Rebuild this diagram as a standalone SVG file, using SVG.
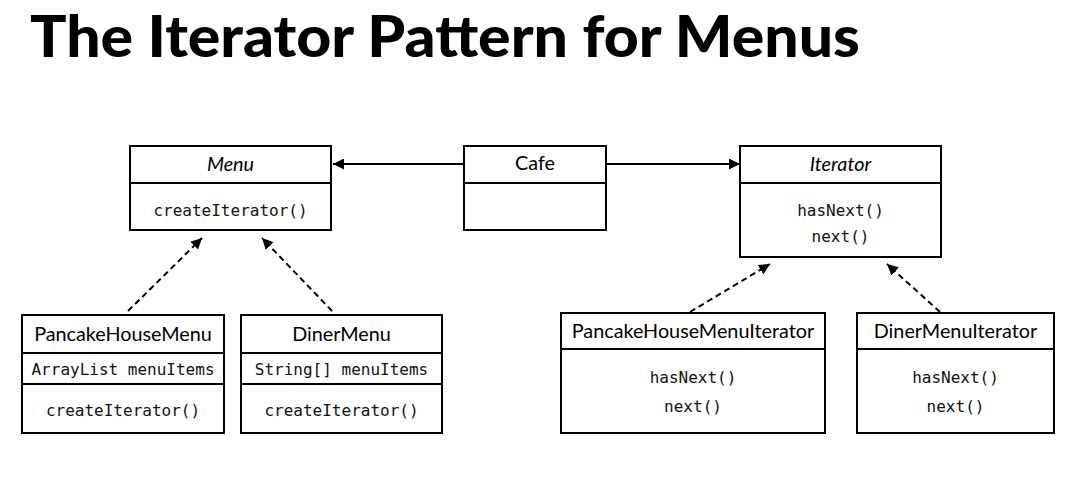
<svg xmlns="http://www.w3.org/2000/svg" width="1083" height="497" viewBox="0 0 1083 497">
<style>
.box{fill:#fff;stroke:#000;stroke-width:2}
.div{stroke:#000;stroke-width:2}
.hd{font-family:Lato,"Liberation Sans",sans-serif;font-size:19.8px;fill:#000;text-anchor:middle}
.it{font-style:italic}
.mono{font-family:"DejaVu Sans Mono","Liberation Mono",monospace;font-size:16px;fill:#111;text-anchor:middle}
.con{stroke:#000;stroke-width:2;fill:none}
.dash{stroke-dasharray:6 4}
</style>
<defs>
<marker id="ah" viewBox="0 0 10 10" refX="10" refY="5" markerWidth="11" markerHeight="11" markerUnits="userSpaceOnUse" orient="auto">
<path d="M0,0 L10,5 L0,10 z" fill="#000"/>
</marker>
</defs>
<rect width="1083" height="497" fill="#fff"/>
<text x="30" y="57" font-family="Lato,'Liberation Sans',sans-serif" font-weight="900" font-size="58" textLength="830" lengthAdjust="spacingAndGlyphs">The Iterator Pattern for Menus</text>

<g id="connectors">
<line class="con" x1="464" y1="164" x2="333" y2="164" marker-end="url(#ah)"/>
<line class="con" x1="606" y1="164" x2="740" y2="164" marker-end="url(#ah)"/>
<line class="con dash" x1="128" y1="311" x2="202" y2="238" marker-end="url(#ah)"/>
<line class="con dash" x1="332" y1="311" x2="262" y2="238" marker-end="url(#ah)"/>
<line class="con dash" x1="690" y1="312" x2="770" y2="264" marker-end="url(#ah)"/>
<line class="con dash" x1="940" y1="312" x2="887" y2="264" marker-end="url(#ah)"/>
</g>

<g id="menu">
<rect class="box" x="130" y="146" width="201" height="84"/>
<line class="div" x1="130" y1="183" x2="331" y2="183"/>
<text class="hd it" x="230.5" y="171">Menu</text>
<text class="mono" x="230.5" y="216">createIterator()</text>
</g>

<g id="cafe">
<rect class="box" x="464" y="146" width="142" height="84"/>
<line class="div" x1="464" y1="183" x2="606" y2="183"/>
<text class="hd" x="535" y="170">Cafe</text>
</g>

<g id="iterator">
<rect class="box" x="740" y="146" width="201" height="111"/>
<line class="div" x1="740" y1="183" x2="941" y2="183"/>
<text class="hd it" x="840.5" y="171">Iterator</text>
<text class="mono" x="840.5" y="216">hasNext()</text>
<text class="mono" x="840.5" y="242">next()</text>
</g>

<g id="pancakeHouseMenu">
<rect class="box" x="22" y="315" width="202" height="118"/>
<line class="div" x1="22" y1="353" x2="224" y2="353"/>
<line class="div" x1="22" y1="384" x2="224" y2="384"/>
<text class="hd" x="123" y="341">PancakeHouseMenu</text>
<text class="mono" x="123" y="375">ArrayList menuItems</text>
<text class="mono" x="123" y="416">createIterator()</text>
</g>

<g id="dinerMenu">
<rect class="box" x="241" y="315" width="201" height="118"/>
<line class="div" x1="241" y1="353" x2="442" y2="353"/>
<line class="div" x1="241" y1="384" x2="442" y2="384"/>
<text class="hd" x="341.5" y="341">DinerMenu</text>
<text class="mono" x="341.5" y="375">String[] menuItems</text>
<text class="mono" x="341.5" y="416">createIterator()</text>
</g>

<g id="pancakeHouseMenuIterator">
<rect class="box" x="561" y="313" width="264" height="120"/>
<line class="div" x1="561" y1="349" x2="825" y2="349"/>
<text class="hd" x="693" y="338">PancakeHouseMenuIterator</text>
<text class="mono" x="693" y="383">hasNext()</text>
<text class="mono" x="693" y="412">next()</text>
</g>

<g id="dinerMenuIterator">
<rect class="box" x="857" y="313" width="197" height="120"/>
<line class="div" x1="857" y1="349" x2="1054" y2="349"/>
<text class="hd" x="955.5" y="338">DinerMenuIterator</text>
<text class="mono" x="955.5" y="383">hasNext()</text>
<text class="mono" x="955.5" y="412">next()</text>
</g>
</svg>
